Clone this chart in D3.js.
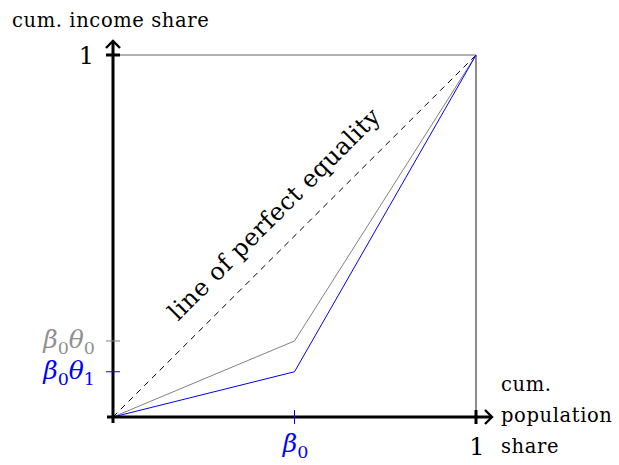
<!DOCTYPE html>
<html>
<head>
<meta charset="utf-8">
<script src="https://cdn.jsdelivr.net/npm/d3@7"></script>
<style>
  html, body { margin: 0; padding: 0; background: #fff; }
  svg { display: block; }
  text { font-family: "DejaVu Serif", serif; }
</style>
</head>
<body>
<svg id="chart" width="619" height="465"></svg>
<script>
// Lorenz curves: cumulative population share vs cumulative income share
const popShare = [0, 0.5, 1];
const lorenzGrey = [0, 0.21, 1];   // β0θ0 at β0
const lorenzBlue = [0, 0.125, 1];  // β0θ1 at β0
const equality = [0, 1];
const yTickLabels = ["β0θ0", "β0θ1"];
const xTickLabels = ["β0"];

const svg = d3.select("#chart");
const x = d3.scaleLinear().domain([0, 1]).range([113, 476]);
const y = d3.scaleLinear().domain([0, 1]).range([417, 55]);

const mk = (xs, ys) => xs.map((d, i) => [x(d), y(ys[i])]);
const line = d3.line();

// frame: top and right edges
svg.append("path").attr("d", line([[x(0), y(1)], [x(1), y(1)]]))
  .attr("stroke", "#555").attr("stroke-width", 0.9).attr("fill", "none");
svg.append("path").attr("d", line([[x(1), y(1)], [x(1), y(0)]]))
  .attr("stroke", "#000").attr("stroke-width", 0.9).attr("fill", "none");

// line of perfect equality
svg.append("path").attr("d", line(mk(equality, equality)))
  .attr("stroke", "#000").attr("stroke-width", 1).attr("stroke-dasharray", "6,5")
  .attr("fill", "none");

// Lorenz curves
svg.append("path").attr("d", line(mk(popShare, lorenzGrey)))
  .attr("stroke", "#808080").attr("stroke-width", 1).attr("fill", "none");
svg.append("path").attr("d", line(mk(popShare, lorenzBlue)))
  .attr("stroke", "#0000ff").attr("stroke-width", 1).attr("fill", "none");

// axes (thick with arrow heads)
const axisG = svg.append("g").attr("stroke", "#000").attr("fill", "none");
axisG.append("path").attr("d", line([[x(0), y(0) + 6], [x(0), y(1) - 13]])).attr("stroke-width", 3);
axisG.append("path").attr("d", line([[x(0) - 6, y(0)], [x(1) + 15, y(0)]])).attr("stroke-width", 3);
axisG.append("path").attr("d", `M${x(0) - 7},${y(1) - 7} L${x(0)},${y(1) - 14} L${x(0) + 7},${y(1) - 7}`)
  .attr("stroke-width", 2.4).attr("stroke-linejoin", "miter");
axisG.append("path").attr("d", `M${x(1) + 9},${y(0) - 7} L${x(1) + 16},${y(0)} L${x(1) + 9},${y(0) + 7}`)
  .attr("stroke-width", 2.4).attr("stroke-linejoin", "miter");
// ticks at 1
axisG.append("path").attr("d", line([[x(0) - 7, y(1)], [x(0) + 7, y(1)]])).attr("stroke-width", 3);
axisG.append("path").attr("d", line([[x(1), y(0) - 7], [x(1), y(0) + 7]])).attr("stroke-width", 3);

// β ticks
svg.append("path").attr("d", line([[x(0) - 7, y(lorenzGrey[1])], [x(0) + 7, y(lorenzGrey[1])]]))
  .attr("stroke", "#808080").attr("stroke-width", 1);
svg.append("path").attr("d", line([[x(0) - 7, y(lorenzBlue[1])], [x(0) + 7, y(lorenzBlue[1])]]))
  .attr("stroke", "#0000ff").attr("stroke-width", 1);
svg.append("path").attr("d", line([[x(popShare[1]), y(0) - 7], [x(popShare[1]), y(0) + 7]]))
  .attr("stroke", "#0000ff").attr("stroke-width", 1);

// labels
const fs = 19.5;
svg.append("text").attr("x", 12).attr("y", 27).attr("font-size", fs)
  .attr("letter-spacing", 0.6).text("cum. income share");
svg.append("text").attr("x", 94).attr("y", y(1) + 9).attr("font-size", 24).attr("text-anchor", "end").text("1");
svg.append("text").attr("x", x(1) + 1).attr("y", 455).attr("font-size", 24).attr("text-anchor", "middle").text("1");

["cum.", "population", "share"].forEach((t, i) => {
  svg.append("text").attr("x", 501).attr("y", 391 + i * 31).attr("font-size", fs)
    .attr("letter-spacing", 0.6).text(t);
});

// math-style tick labels: italic Greek letter followed by an upright subscript
function mathLabel(sel, parts, color) {
  const t = sel.attr("fill", color).attr("font-size", 25);
  parts.forEach((p, i) => {
    t.append("tspan").attr("font-style", "italic").attr("dy", i === 0 ? 0 : -6).text(p[0]);
    t.append("tspan").attr("font-size", 17.5).attr("dy", 6).text(p[1]);
  });
}
const parseLabel = s => s.match(/[βθ]\d/g).map(m => [m[0], m[1]]);
mathLabel(svg.append("text").attr("x", 95).attr("y", y(lorenzGrey[1]) + 7).attr("text-anchor", "end"),
  parseLabel(yTickLabels[0]), "#909090");
mathLabel(svg.append("text").attr("x", 95).attr("y", y(lorenzBlue[1]) + 7).attr("text-anchor", "end"),
  parseLabel(yTickLabels[1]), "#0000ff");
mathLabel(svg.append("text").attr("x", x(popShare[1]) + 1).attr("y", 452).attr("text-anchor", "middle"),
  parseLabel(xTickLabels[0]), "#0000ff");

// rotated annotation along the equality line
svg.append("text")
  .attr("transform", `translate(${x(0.46)},${y(0.545)}) rotate(-45)`)
  .attr("text-anchor", "middle").attr("font-size", 24).attr("letter-spacing", 0.5)
  .text("line of perfect equality");
</script>
</body>
</html>
